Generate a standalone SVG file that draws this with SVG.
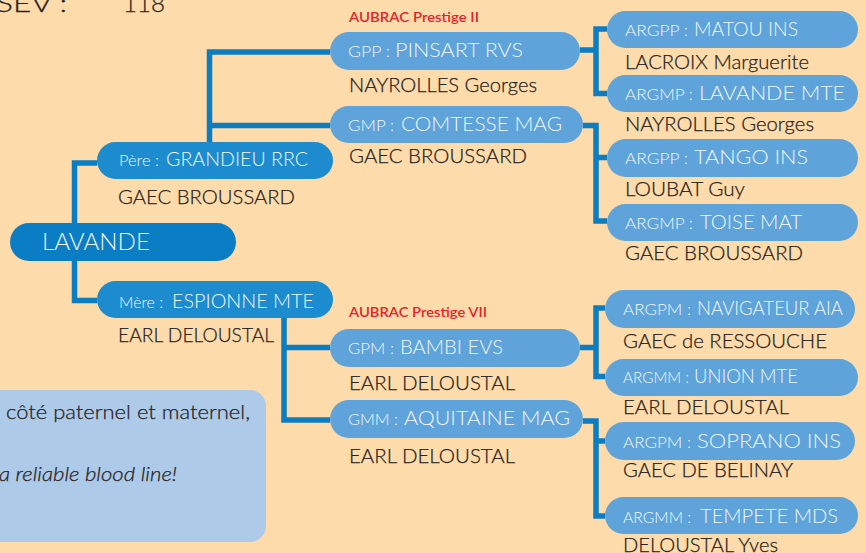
<svg xmlns="http://www.w3.org/2000/svg" width="866" height="553" viewBox="0 0 866 553">
<style>
text{font-family:Lato,"Open Sans","Liberation Sans",sans-serif;font-weight:300}
.w{fill:#F2F7FC}
.d{fill:#27221F;stroke:#27221F;stroke-width:0.25}
.n{font-size:20px}
.p{font-size:16px}
.r{font-size:14px;fill:#E1252B;font-weight:600}
.root{fill:#0A7DC4}
.par{fill:#1C8CCF}
.gp{fill:#5EA3D9}
.ln{fill:none;stroke:#0A7DC3;stroke-width:5.5;stroke-linejoin:miter;stroke-linecap:butt}
</style>
<rect x="0" y="0" width="866" height="553" fill="#FDDBAA"/>
<text x="-4" y="12" class="d" style="font-size:24px" textLength="71" lengthAdjust="spacingAndGlyphs">SEV :</text>
<text x="123" y="12" class="d" style="font-size:24px" textLength="42" lengthAdjust="spacingAndGlyphs">118</text>
<g id="connectors">
<path class="ln" d="M97,163 H74.5 V300.5 H97"/>
<path class="ln" d="M209.5,142 V52 H330 M209.5,125.5 H330"/>
<path class="ln" d="M580,50 H596 M607,29 H596 V93.5 H607"/>
<path class="ln" d="M583,125.5 H596 V221 H607 M596,157.5 H607"/>
<path class="ln" d="M284,318 V420 H330 M284,347.5 H330"/>
<path class="ln" d="M580,347.5 H596 M605,308 H596 V376.5 H605"/>
<path class="ln" d="M583,421 H596 V516 H605 M596,441 H605"/>
</g>
<g id="note">
<rect x="-20" y="390" width="286" height="152" rx="16" fill="#ADCAE8"/>
<text x="6" y="419" class="d n" textLength="244" lengthAdjust="spacingAndGlyphs">côté paternel et maternel,</text>
<text x="-1" y="481" class="d n" style="font-style:italic" textLength="178" lengthAdjust="spacingAndGlyphs">a reliable blood line!</text>
</g>
<g id="lavande">
<rect class="root" x="10" y="223" width="226" height="38" rx="19"/>
<text x="42" y="250" class="w" style="font-size:24px" textLength="108" lengthAdjust="spacingAndGlyphs">LAVANDE</text>
</g>
<g id="pere">
<rect class="par" x="97" y="142" width="236" height="37" rx="18.5"/>
<text x="119" y="166" class="w p" textLength="40" lengthAdjust="spacingAndGlyphs">Père :</text>
<text x="166" y="166" class="w n" textLength="142" lengthAdjust="spacingAndGlyphs">GRANDIEU RRC</text>
<text x="118" y="204" class="d n" textLength="177" lengthAdjust="spacingAndGlyphs">GAEC BROUSSARD</text>
</g>
<g id="mere">
<rect class="par" x="97" y="281" width="236" height="37" rx="18.5"/>
<text x="119" y="308" class="w p" textLength="44" lengthAdjust="spacingAndGlyphs">Mère :</text>
<text x="172" y="308" class="w n" textLength="142" lengthAdjust="spacingAndGlyphs">ESPIONNE MTE</text>
<text x="118" y="342" class="d n" textLength="156" lengthAdjust="spacingAndGlyphs">EARL DELOUSTAL</text>
</g>
<g id="gpp">
<text x="349" y="22" class="r" textLength="130" lengthAdjust="spacingAndGlyphs">AUBRAC Prestige II</text>
<rect class="gp" x="330" y="32" width="250" height="38" rx="19"/>
<text x="348" y="57" class="w p" textLength="42" lengthAdjust="spacingAndGlyphs">GPP :</text>
<text x="395" y="57" class="w n" textLength="128" lengthAdjust="spacingAndGlyphs">PINSART RVS</text>
<text x="349" y="92" class="d n" textLength="188" lengthAdjust="spacingAndGlyphs">NAYROLLES Georges</text>
</g>
<g id="gmp">
<rect class="gp" x="330" y="106" width="253" height="37" rx="18.5"/>
<text x="348" y="131" class="w p" textLength="46" lengthAdjust="spacingAndGlyphs">GMP :</text>
<text x="401" y="131" class="w n" textLength="161" lengthAdjust="spacingAndGlyphs">COMTESSE MAG</text>
<text x="349" y="163" class="d n" textLength="178" lengthAdjust="spacingAndGlyphs">GAEC BROUSSARD</text>
</g>
<g id="gpm">
<text x="349" y="317" class="r" textLength="138" lengthAdjust="spacingAndGlyphs">AUBRAC Prestige VII</text>
<rect class="gp" x="330" y="329" width="250" height="38" rx="19"/>
<text x="348" y="354" class="w p" textLength="46" lengthAdjust="spacingAndGlyphs">GPM :</text>
<text x="400" y="354" class="w n" textLength="103" lengthAdjust="spacingAndGlyphs">BAMBI EVS</text>
<text x="349" y="390" class="d n" textLength="166" lengthAdjust="spacingAndGlyphs">EARL DELOUSTAL</text>
</g>
<g id="gmm">
<rect class="gp" x="330" y="400" width="253" height="38" rx="19"/>
<text x="348" y="425" class="w p" textLength="50" lengthAdjust="spacingAndGlyphs">GMM :</text>
<text x="404" y="425" class="w n" textLength="166" lengthAdjust="spacingAndGlyphs">AQUITAINE MAG</text>
<text x="349" y="463" class="d n" textLength="166" lengthAdjust="spacingAndGlyphs">EARL DELOUSTAL</text>
</g>
<g id="argpp1">
<rect class="gp" x="607" y="11" width="251" height="37" rx="18.5"/>
<text x="625" y="36" class="w p" textLength="63" lengthAdjust="spacingAndGlyphs">ARGPP :</text>
<text x="694" y="36" class="w n" textLength="104" lengthAdjust="spacingAndGlyphs">MATOU INS</text>
<text x="625" y="69" class="d n" textLength="184" lengthAdjust="spacingAndGlyphs">LACROIX Marguerite</text>
</g>
<g id="argmp1">
<rect class="gp" x="607" y="75" width="251" height="37" rx="18.5"/>
<text x="625" y="100" class="w p" textLength="68" lengthAdjust="spacingAndGlyphs">ARGMP :</text>
<text x="699" y="100" class="w n" textLength="146" lengthAdjust="spacingAndGlyphs">LAVANDE MTE</text>
<text x="625" y="131" class="d n" textLength="189" lengthAdjust="spacingAndGlyphs">NAYROLLES Georges</text>
</g>
<g id="argpp2">
<rect class="gp" x="607" y="139" width="251" height="38" rx="19"/>
<text x="625" y="164" class="w p" textLength="63" lengthAdjust="spacingAndGlyphs">ARGPP :</text>
<text x="694" y="164" class="w n" textLength="114" lengthAdjust="spacingAndGlyphs">TANGO INS</text>
<text x="625" y="196" class="d n" textLength="120" lengthAdjust="spacingAndGlyphs">LOUBAT Guy</text>
</g>
<g id="argmp2">
<rect class="gp" x="607" y="204" width="251" height="37" rx="18.5"/>
<text x="625" y="229" class="w p" textLength="68" lengthAdjust="spacingAndGlyphs">ARGMP :</text>
<text x="700" y="229" class="w n" textLength="102" lengthAdjust="spacingAndGlyphs">TOISE MAT</text>
<text x="625" y="260" class="d n" textLength="178" lengthAdjust="spacingAndGlyphs">GAEC BROUSSARD</text>
</g>
<g id="argpm1">
<rect class="gp" x="605" y="290" width="250" height="38" rx="19"/>
<text x="623" y="315" class="w p" textLength="68" lengthAdjust="spacingAndGlyphs">ARGPM :</text>
<text x="697" y="315" class="w n" textLength="146" lengthAdjust="spacingAndGlyphs">NAVIGATEUR AIA</text>
<text x="623" y="348" class="d n" textLength="204" lengthAdjust="spacingAndGlyphs">GAEC de RESSOUCHE</text>
</g>
<g id="argmm1">
<rect class="gp" x="605" y="359" width="253" height="37" rx="18.5"/>
<text x="623" y="383" class="w p" textLength="66" lengthAdjust="spacingAndGlyphs">ARGMM :</text>
<text x="694" y="383" class="w n" textLength="104" lengthAdjust="spacingAndGlyphs">UNION MTE</text>
<text x="623" y="414" class="d n" textLength="166" lengthAdjust="spacingAndGlyphs">EARL DELOUSTAL</text>
</g>
<g id="argpm2">
<rect class="gp" x="605" y="422" width="250" height="38" rx="19"/>
<text x="623" y="448" class="w p" textLength="68" lengthAdjust="spacingAndGlyphs">ARGPM :</text>
<text x="697" y="448" class="w n" textLength="144" lengthAdjust="spacingAndGlyphs">SOPRANO INS</text>
<text x="623" y="477" class="d n" textLength="170" lengthAdjust="spacingAndGlyphs">GAEC DE BELINAY</text>
</g>
<g id="argmm2">
<rect class="gp" x="605" y="497" width="253" height="37" rx="18.5"/>
<text x="623" y="523" class="w p" textLength="68" lengthAdjust="spacingAndGlyphs">ARGMM :</text>
<text x="700" y="523" class="w n" textLength="138" lengthAdjust="spacingAndGlyphs">TEMPETE MDS</text>
<text x="623" y="552" class="d n" textLength="155" lengthAdjust="spacingAndGlyphs">DELOUSTAL Yves</text>
</g>
</svg>
